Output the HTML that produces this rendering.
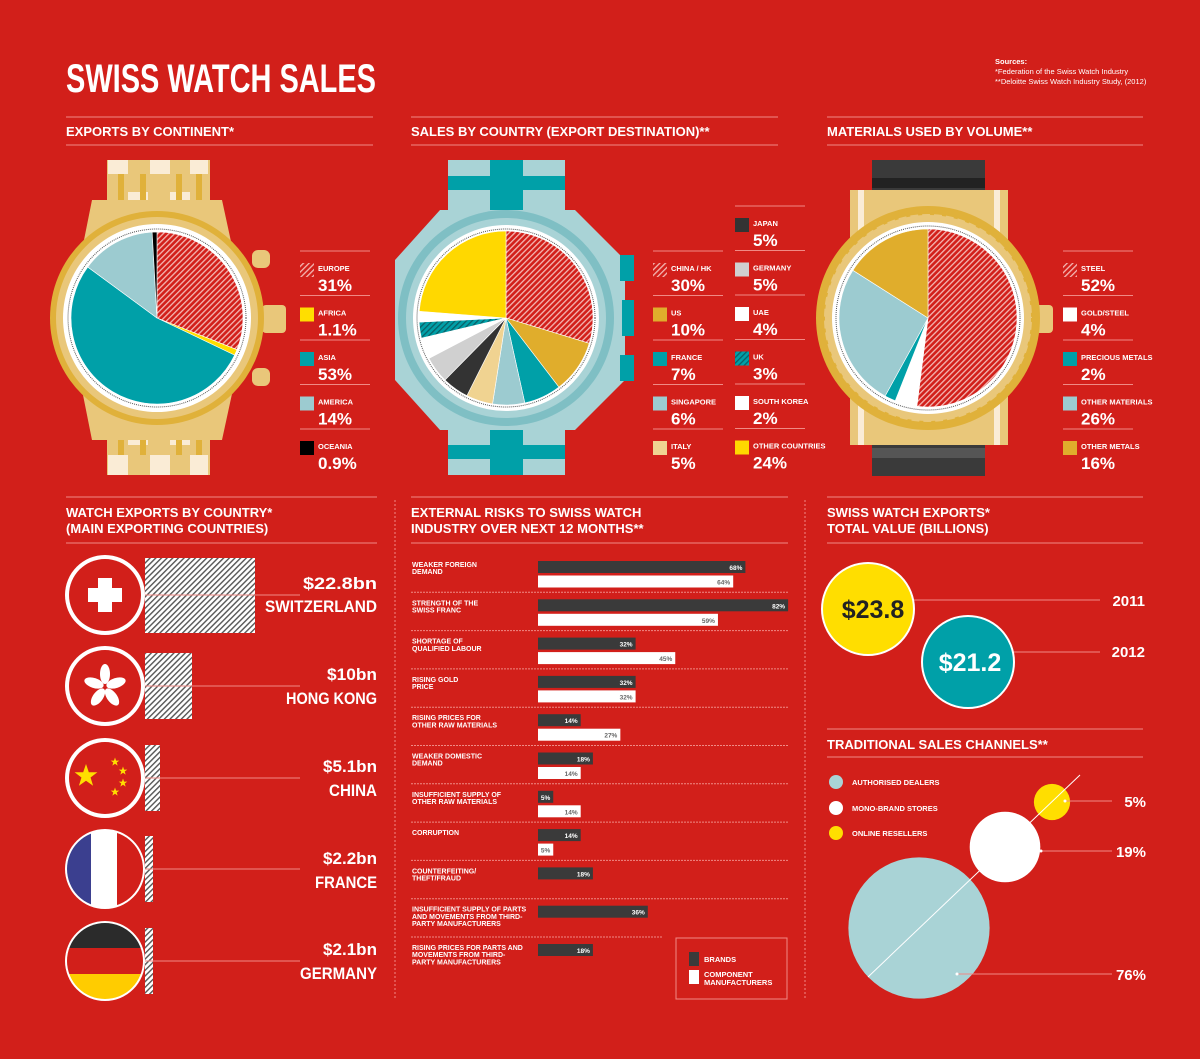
<!DOCTYPE html>
<html><head><meta charset="utf-8">
<style>
html,body{margin:0;padding:0;background:#d21f1a;}
svg{display:block;font-family:"Liberation Sans Narrow","Liberation Sans",sans-serif;font-weight:bold;}
</style></head>
<body>
<svg id="root" width="1200" height="1059" viewBox="0 0 1200 1059" xmlns="http://www.w3.org/2000/svg">
<defs>
<pattern id="hatchRed" patternUnits="userSpaceOnUse" width="4" height="4" patternTransform="rotate(45)">
<rect width="4" height="4" fill="#d21f1a"/><rect width="1.3" height="4" fill="#f4b8b4"/></pattern>
<pattern id="hatchGrey" patternUnits="userSpaceOnUse" width="4" height="4" patternTransform="rotate(45)">
<rect width="4" height="4" fill="#fff"/><rect width="1.4" height="4" fill="#555"/></pattern>
<pattern id="hatchTeal" patternUnits="userSpaceOnUse" width="4" height="4" patternTransform="rotate(45)">
<rect width="4" height="4" fill="#00a0a8"/><rect width="1.3" height="4" fill="#0a5f66"/></pattern>
<clipPath id="c4"><circle cx="105" cy="869" r="38"/></clipPath>
<clipPath id="c5"><circle cx="105" cy="961" r="38"/></clipPath>
<polygon id="star" points="0,-10 2.35,-3.1 9.5,-3.1 3.8,1.2 5.9,8.1 0,4 -5.9,8.1 -3.8,1.2 -9.5,-3.1 -2.35,-3.1"/>
</defs>
<rect width="1200" height="1059" fill="#d21f1a"/>

<text x="66" y="92" fill="#fff" font-size="40" textLength="310" lengthAdjust="spacingAndGlyphs">SWISS WATCH SALES</text>
<g fill="#fff" font-size="7.5" font-weight="normal">
<text x="995" y="64" font-weight="bold">Sources:</text>
<text x="995" y="74">*Federation of the Swiss Watch Industry</text>
<text x="995" y="84">**Deloitte Swiss Watch Industry Study, (2012)</text>
</g>

<g stroke="#f08a85" stroke-width="1">
<line x1="66" y1="117" x2="373" y2="117"/><line x1="66" y1="145" x2="373" y2="145"/>
<line x1="411" y1="117" x2="778" y2="117"/><line x1="411" y1="145" x2="778" y2="145"/>
<line x1="827" y1="117" x2="1143" y2="117"/><line x1="827" y1="145" x2="1143" y2="145"/>
<line x1="66" y1="497" x2="377" y2="497"/><line x1="66" y1="543" x2="377" y2="543"/>
<line x1="411" y1="497" x2="788" y2="497"/><line x1="411" y1="543" x2="788" y2="543"/>
<line x1="827" y1="497" x2="1143" y2="497"/><line x1="827" y1="543" x2="1143" y2="543"/>
<line x1="827" y1="729" x2="1143" y2="729"/><line x1="827" y1="757" x2="1143" y2="757"/>
</g>
<g stroke="#f08a85" stroke-dasharray="2,2"><line x1="395" y1="500" x2="395" y2="1000"/><line x1="805" y1="500" x2="805" y2="1000"/></g>

<g fill="#fff" font-size="13">
<text x="66" y="136">EXPORTS BY CONTINENT*</text>
<text x="411" y="136">SALES BY COUNTRY (EXPORT DESTINATION)**</text>
<text x="827" y="136">MATERIALS USED BY VOLUME**</text>
<text x="66" y="517">WATCH EXPORTS BY COUNTRY*<tspan x="66" y="533">(MAIN EXPORTING COUNTRIES)</tspan></text>
<text x="411" y="517">EXTERNAL RISKS TO SWISS WATCH<tspan x="411" y="533">INDUSTRY OVER NEXT 12 MONTHS**</tspan></text>
<text x="827" y="517">SWISS WATCH EXPORTS*<tspan x="827" y="533">TOTAL VALUE (BILLIONS)</tspan></text>
<text x="827" y="749">TRADITIONAL SALES CHANNELS**</text>
</g>

<!-- Watch 1 -->
<g>
<rect x="107" y="160" width="103" height="80" fill="#e9c77a"/>
<rect x="107" y="395" width="103" height="80" fill="#e9c77a"/>
<g fill="#faecd6"><rect x="108" y="160" width="20" height="14"/><rect x="150" y="160" width="20" height="14"/><rect x="190" y="160" width="18" height="14"/><rect x="128" y="192" width="20" height="14"/><rect x="170" y="192" width="20" height="14"/>
<rect x="108" y="455" width="20" height="20"/><rect x="150" y="455" width="20" height="20"/><rect x="190" y="455" width="18" height="20"/><rect x="128" y="425" width="20" height="20"/><rect x="170" y="425" width="20" height="20"/></g>
<g fill="#e0b13a"><rect x="118" y="174" width="6" height="66"/><rect x="140" y="174" width="6" height="66"/><rect x="176" y="174" width="6" height="66"/><rect x="196" y="174" width="6" height="66"/>
<rect x="118" y="395" width="6" height="60"/><rect x="140" y="395" width="6" height="60"/><rect x="176" y="395" width="6" height="60"/><rect x="196" y="395" width="6" height="60"/></g>
<path d="M92 200 L222 200 L235 260 L235 380 L222 440 L92 440 L80 380 L80 260 Z" fill="#e9c77a"/>
<rect x="252" y="250" width="18" height="18" rx="6" fill="#e9c77a"/><rect x="252" y="368" width="18" height="18" rx="6" fill="#e9c77a"/>
<rect x="262" y="305" width="24" height="28" rx="4" fill="#e9c77a"/>
<circle cx="157" cy="318" r="107" fill="#e0b13a"/>
<circle cx="157" cy="318" r="101" fill="#e9c77a"/>
<circle cx="157" cy="318" r="94" fill="#fff"/>
<circle cx="157" cy="318" r="89" fill="none" stroke="#555" stroke-width="1" stroke-dasharray="1,1"/>
<g id="pie1"></g>
</g>

<!-- Watch 2 -->
<g>
<rect x="448" y="160" width="117" height="80" fill="#a9d3d6"/>
<rect x="448" y="395" width="117" height="80" fill="#a9d3d6"/>
<rect x="490" y="160" width="33" height="80" fill="#00a0a8"/><rect x="490" y="395" width="33" height="80" fill="#00a0a8"/>
<rect x="448" y="176" width="117" height="14" fill="#00a0a8"/><rect x="448" y="445" width="117" height="14" fill="#00a0a8"/>
<path d="M440 210 L575 210 L625 260 L625 380 L575 430 L440 430 L395 380 L395 260 Z" fill="#a9d3d6"/>
<rect x="620" y="255" width="14" height="26" fill="#00a0a8"/><rect x="620" y="355" width="14" height="26" fill="#00a0a8"/><rect x="622" y="300" width="12" height="36" fill="#00a0a8"/>
<circle cx="506" cy="318" r="108" fill="#7fbfc4"/>
<circle cx="506" cy="318" r="100" fill="#a9d3d6"/>
<circle cx="506" cy="318" r="93" fill="#fff"/>
<circle cx="506" cy="318" r="89" fill="none" stroke="#555" stroke-width="1" stroke-dasharray="1,1"/>
<g id="pie2"></g>
</g>

<!-- Watch 3 -->
<g>
<rect x="872" y="160" width="113" height="48" fill="#3a3a3a"/>
<rect x="872" y="428" width="113" height="48" fill="#3a3a3a"/>
<rect x="872" y="178" width="113" height="10" fill="#222"/><rect x="872" y="448" width="113" height="10" fill="#555"/>
<rect x="850" y="190" width="158" height="255" fill="#e9c77a"/>
<rect x="858" y="190" width="6" height="255" fill="#faecd6"/><rect x="994" y="190" width="6" height="255" fill="#faecd6"/>
<rect x="1035" y="305" width="18" height="28" rx="4" fill="#e9c77a"/>
<circle cx="928" cy="318" r="112" fill="#e0b13a"/>
<circle cx="928" cy="318" r="104" fill="#e9c77a" stroke="#e0b13a" stroke-width="2" stroke-dasharray="4,8"/>
<circle cx="928" cy="318" r="96" fill="#fff"/>
<circle cx="928" cy="318" r="92" fill="none" stroke="#555" stroke-width="1" stroke-dasharray="1,1"/>
<g id="pie3"></g>
</g>

<g id="legends"></g>

<!-- Flags -->
<g>
<g>
<rect x="145" y="558" width="110" height="75" fill="url(#hatchGrey)"/><line x1="143" y1="595" x2="300" y2="595" stroke="#f08a85"/>
<circle cx="105" cy="595" r="40" fill="#fff"/><circle cx="105" cy="595" r="36" fill="#d21f1a"/>
<rect x="98" y="578" width="14" height="34" fill="#fff"/><rect x="88" y="588" width="34" height="14" fill="#fff"/>
<text x="377" y="589" text-anchor="end" fill="#fff" font-size="17" textLength="74" lengthAdjust="spacingAndGlyphs">$22.8bn</text><text x="377" y="612" text-anchor="end" fill="#fff" font-size="17" textLength="112" lengthAdjust="spacingAndGlyphs">SWITZERLAND</text></g>
<g>
<rect x="145" y="653" width="47" height="66" fill="url(#hatchGrey)"/><line x1="143" y1="686" x2="300" y2="686" stroke="#f08a85"/>
<circle cx="105" cy="686" r="40" fill="#fff"/><circle cx="105" cy="686" r="36" fill="#d21f1a"/>
<g fill="#fff"><ellipse cx="105" cy="674" rx="5" ry="10"/><ellipse cx="116" cy="683" rx="5" ry="10" transform="rotate(72 116 683)"/><ellipse cx="112" cy="697" rx="5" ry="10" transform="rotate(144 112 697)"/><ellipse cx="98" cy="697" rx="5" ry="10" transform="rotate(216 98 697)"/><ellipse cx="94" cy="683" rx="5" ry="10" transform="rotate(288 94 683)"/></g>
<text x="377" y="680" text-anchor="end" fill="#fff" font-size="17" textLength="50" lengthAdjust="spacingAndGlyphs">$10bn</text><text x="377" y="704" text-anchor="end" fill="#fff" font-size="17" textLength="91" lengthAdjust="spacingAndGlyphs">HONG KONG</text></g>
<g>
<rect x="145" y="745" width="15" height="66" fill="url(#hatchGrey)"/><line x1="143" y1="778" x2="300" y2="778" stroke="#f08a85"/>
<circle cx="105" cy="778" r="40" fill="#fff"/><circle cx="105" cy="778" r="36" fill="#d21f1a"/>
<g fill="#ffde00">
<use href="#star" transform="translate(86 776) scale(1.2)"/>
<use href="#star" transform="translate(115 762) scale(0.45)"/>
<use href="#star" transform="translate(123 771) scale(0.45)"/>
<use href="#star" transform="translate(123 783) scale(0.45)"/>
<use href="#star" transform="translate(115 792) scale(0.45)"/>
</g>
<text x="377" y="772" text-anchor="end" fill="#fff" font-size="17" textLength="54" lengthAdjust="spacingAndGlyphs">$5.1bn</text><text x="377" y="796" text-anchor="end" fill="#fff" font-size="17" textLength="48" lengthAdjust="spacingAndGlyphs">CHINA</text></g>
<g>
<rect x="145" y="836" width="8" height="66" fill="url(#hatchGrey)"/><line x1="143" y1="869" x2="300" y2="869" stroke="#f08a85"/>
<circle cx="105" cy="869" r="40" fill="#fff"/>
<g clip-path="url(#c4)"><rect x="65" y="829" width="26" height="80" fill="#3b3f8f"/><rect x="91" y="829" width="26" height="80" fill="#fff"/><rect x="117" y="829" width="26" height="80" fill="#d21f1a"/></g>
<text x="377" y="864" text-anchor="end" fill="#fff" font-size="17" textLength="54" lengthAdjust="spacingAndGlyphs">$2.2bn</text><text x="377" y="888" text-anchor="end" fill="#fff" font-size="17" textLength="62" lengthAdjust="spacingAndGlyphs">FRANCE</text></g>
<g>
<rect x="145" y="928" width="8" height="66" fill="url(#hatchGrey)"/><line x1="143" y1="961" x2="300" y2="961" stroke="#f08a85"/>
<circle cx="105" cy="961" r="40" fill="#fff"/>
<g clip-path="url(#c5)"><rect x="65" y="921" width="80" height="27" fill="#2b2b2b"/><rect x="65" y="948" width="80" height="26" fill="#d21f1a"/><rect x="65" y="974" width="80" height="27" fill="#ffcc00"/></g>
<text x="377" y="955" text-anchor="end" fill="#fff" font-size="17" textLength="54" lengthAdjust="spacingAndGlyphs">$2.1bn</text><text x="377" y="979" text-anchor="end" fill="#fff" font-size="17" textLength="77" lengthAdjust="spacingAndGlyphs">GERMANY</text></g>
</g>

<g id="risks"></g>
<g>
<rect x="676" y="938" width="111" height="61" fill="none" stroke="#f08a85"/>
<rect x="689" y="952" width="10" height="14" fill="#3a3a3a"/><text x="704" y="962" fill="#fff" font-size="7.5">BRANDS</text>
<rect x="689" y="970" width="10" height="14" fill="#fff"/><text x="704" y="977" fill="#fff" font-size="7.5">COMPONENT<tspan x="704" y="985">MANUFACTURERS</tspan></text>
</g>

<!-- Total value -->
<g>
<line x1="868" y1="600" x2="1100" y2="600" stroke="#f08a85"/>
<line x1="968" y1="652" x2="1100" y2="652" stroke="#f08a85"/>
<circle cx="868" cy="609" r="46" fill="#ffde00" stroke="#fff" stroke-width="2"/>
<text x="873" y="618" text-anchor="middle" font-size="25" fill="#222">$23.8</text>
<circle cx="968" cy="662" r="46" fill="#00a0a8" stroke="#fff" stroke-width="2"/>
<text x="970" y="671" text-anchor="middle" font-size="25" fill="#fff">$21.2</text>
<text x="1145" y="606" text-anchor="end" fill="#fff" font-size="15">2011</text>
<text x="1145" y="657" text-anchor="end" fill="#fff" font-size="15">2012</text>
</g>

<!-- Sales channels -->
<g>
<circle cx="836" cy="782" r="7" fill="#a9d3d6"/><text x="852" y="785" fill="#fff" font-size="7.5">AUTHORISED DEALERS</text>
<circle cx="836" cy="808" r="7" fill="#fff"/><text x="852" y="811" fill="#fff" font-size="7.5">MONO-BRAND STORES</text>
<circle cx="836" cy="833" r="7" fill="#ffde00"/><text x="852" y="836" fill="#fff" font-size="7.5">ONLINE RESELLERS</text>
<g id="channels"></g>
</g>

<script>
var NS='http://www.w3.org/2000/svg';
function mk(tag,attrs,parent){var e=document.createElementNS(NS,tag);for(var k in attrs)e.setAttribute(k,attrs[k]);parent.appendChild(e);return e;}

var continentLabels=['EUROPE','AFRICA','ASIA','AMERICA','OCEANIA'];
var continentValues=[31,1.1,53,14,0.9];
var continentText=['31%','1.1%','53%','14%','0.9%'];
var continentColors=['url(#hatchRed)','#ffde00','#00a0a8','#9ccbd0','#000'];

var countryLabels=['CHINA / HK','US','FRANCE','SINGAPORE','ITALY','JAPAN','GERMANY','UAE','UK','SOUTH KOREA','OTHER COUNTRIES'];
var countryValues=[30,10,7,6,5,5,5,4,3,2,24];
var countryColors=['url(#hatchRed)','#e0ad2c','#00a0a8','#9ccbd0','#f0d391','#333','#d0d0d0','#fff','url(#hatchTeal)','#fff','#ffd800'];

var materialLabels=['STEEL','GOLD/STEEL','PRECIOUS METALS','OTHER MATERIALS','OTHER METALS'];
var materialValues=[52,4,2,26,16];
var materialColors=['url(#hatchRed)','#fff','#00a0a8','#9ccbd0','#e0ad2c'];

function pie(id,cx,cy,r,vals,cols,name){
  var g=document.getElementById(id);var tot=vals.reduce(function(a,b){return a+b;},0);var a0=-Math.PI/2;
  vals.forEach(function(v,i){
    var a1=a0+v/tot*2*Math.PI;var large=(a1-a0)>Math.PI?1:0;
    var d='M'+cx+' '+cy+' L'+(cx+r*Math.cos(a0))+' '+(cy+r*Math.sin(a0))+' A'+r+' '+r+' 0 '+large+' 1 '+(cx+r*Math.cos(a1))+' '+(cy+r*Math.sin(a1))+' Z';
    var p=mk('path',{d:d,fill:cols[i],stroke:'#fff','stroke-width':'0.6'},g);
    
    
    a0=a1;
  });
}
pie('pie1',157,318,86,continentValues,continentColors,'continent');
pie('pie2',506,318,87,countryValues,countryColors,'country');
pie('pie3',928,318,89,materialValues,materialColors,'material');

var L=document.getElementById('legends');
function legendCol(x,y0,labels,texts,cols,name,lineW){
  labels.forEach(function(lb,i){
    var y=y0+i*44.5;
    mk('line',{x1:x,y1:y,x2:x+lineW,y2:y,stroke:'#f08a85'},L);
    var s=mk('rect',{x:x,y:y+12,width:14,height:14,fill:cols[i]},L);
    
    
    var t=mk('text',{x:x+18,y:y+20,fill:'#fff','font-size':'7.5'},L);t.textContent=lb;
    var v=mk('text',{x:x+18,y:y+40,fill:'#fff','font-size':'17'},L);v.textContent=texts[i];
  });
}
legendCol(300,251,continentLabels,continentText,continentColors,'continent',70);
var cvText=countryValues.map(function(v){return v+'%';});
legendCol(653,251,countryLabels.slice(0,5),cvText.slice(0,5),countryColors.slice(0,5),'country',70);
legendCol(735,206,countryLabels.slice(5),cvText.slice(5),countryColors.slice(5),'country',70);
legendCol(1063,251,materialLabels,materialValues.map(function(v){return v+'%';}),materialColors,'material',70);

var riskLabels=[['WEAKER FOREIGN','DEMAND'],['STRENGTH OF THE','SWISS FRANC'],['SHORTAGE OF','QUALIFIED LABOUR'],['RISING GOLD','PRICE'],['RISING PRICES FOR','OTHER RAW MATERIALS'],['WEAKER DOMESTIC','DEMAND'],['INSUFFICIENT SUPPLY OF','OTHER RAW MATERIALS'],['CORRUPTION'],['COUNTERFEITING/','THEFT/FRAUD'],['INSUFFICIENT SUPPLY OF PARTS','AND MOVEMENTS FROM THIRD-','PARTY MANUFACTURERS'],['RISING PRICES FOR PARTS AND','MOVEMENTS FROM THIRD-','PARTY MANUFACTURERS']];
var brandValues=[68,82,32,32,14,18,5,14,18,36,18];
var componentValues=[64,59,45,32,27,14,14,5,null,null,null];
var R=document.getElementById('risks');
function xs(v){return 538+v*3.05;}
riskLabels.forEach(function(lines,i){
  var y=561+i*38.3;
  if(i>0) mk('line',{x1:411,y1:y-7,x2:i==10?662:788,y2:y-7,stroke:'#f08a85','stroke-dasharray':'2,1'},R);
  lines.forEach(function(l,j){var t=mk('text',{x:412,y:y+6+j*7.2,fill:'#fff','font-size':'7'},R);t.textContent=l;});
  var b=mk('rect',{x:538,y:y,width:xs(brandValues[i])-538,height:12,fill:'#3a3a3a'},R);
  
  
  var bt=mk('text',{x:xs(brandValues[i])-3,y:y+9,'text-anchor':'end',fill:'#fff','font-size':'6.5'},R);bt.textContent=brandValues[i]+'%';
  if(componentValues[i]!=null){
    var c=mk('rect',{x:538,y:y+14.5,width:xs(componentValues[i])-538,height:12,fill:'#fff'},R);
    
    
    var ct=mk('text',{x:xs(componentValues[i])-3,y:y+23.5,'text-anchor':'end',fill:'#666','font-size':'6.5'},R);ct.textContent=componentValues[i]+'%';
  }
});

var channelNames=['online','mono-brand','authorised'];
var channelValues=[5,19,76];
var channelColors=['#ffde00','#fff','#a9d3d6'];
var C=document.getElementById('channels');
var cx0=[1052,1005,919],cy0=[802,847,928];
var labelY=[801,851,974];
var lineStartX=[1065,1041,957];
channelValues.forEach(function(v,i){
  var r=Math.sqrt(v)*8.1;
  var c=mk('circle',{cx:cx0[i],cy:cy0[i],r:r,fill:channelColors[i]},C);
  
  
  mk('line',{x1:lineStartX[i],y1:labelY[i],x2:1112,y2:labelY[i],stroke:'#f08a85'},C);
  mk('circle',{cx:lineStartX[i],cy:labelY[i],r:1.5,fill:'#fff'},C);
  var t=mk('text',{x:1146,y:labelY[i]+6,'text-anchor':'end',fill:'#fff','font-size':'15'},C);t.textContent=v+'%';
});
mk('line',{x1:868,y1:977,x2:1080,y2:775,stroke:'#fff','stroke-width':'1'},C);
</script>
</svg>
</body></html>
